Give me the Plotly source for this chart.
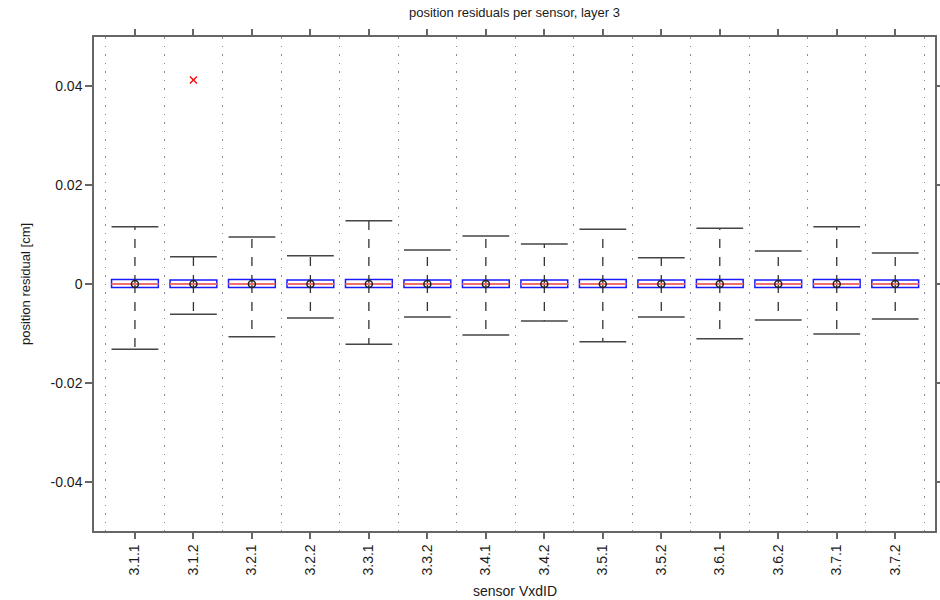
import plotly.graph_objects as go

sensors = ["3.1.1", "3.1.2", "3.2.1", "3.2.2", "3.3.1", "3.3.2", "3.4.1",
           "3.4.2", "3.5.1", "3.5.2", "3.6.1", "3.6.2", "3.7.1", "3.7.2"]
upper_whisker = [0.0116, 0.0055, 0.0095, 0.0057, 0.0128, 0.0069, 0.0097,
                 0.0081, 0.0111, 0.0053, 0.0113, 0.0067, 0.0116, 0.0063]
lower_whisker = [-0.0132, -0.0061, -0.0107, -0.0069, -0.0122, -0.0067, -0.0103,
                 -0.0075, -0.0117, -0.0067, -0.0111, -0.0073, -0.0101, -0.0071]
q3 = [0.0009, 0.0008, 0.0009, 0.0008, 0.0009, 0.0008, 0.0008,
      0.0008, 0.0009, 0.0008, 0.0009, 0.0008, 0.0009, 0.0008]
q1 = [-0.0007, -0.0007, -0.0007, -0.0007, -0.0007, -0.0007, -0.0007,
      -0.0007, -0.0007, -0.0007, -0.0007, -0.0007, -0.0007, -0.0007]
median = [0.0, 0.0, 0.0, 0.0, 0.0, 0.0, 0.0, 0.0, 0.0, 0.0, 0.0, 0.0, 0.0, 0.0]
mean = [0.0, 0.0, 0.0, 0.0, 0.0, 0.0, 0.0, 0.0, 0.0, 0.0, 0.0, 0.0, 0.0, 0.0]
outlier_sensor = ["3.1.2"]
outlier_value = [0.0413]

y_tickvals = [-0.04, -0.02, 0, 0.02, 0.04]
y_ticktext = ["-0.04", "-0.02", "0", "0.02", "0.04"]

pos = list(range(len(sensors)))
half = 0.4

# dashed whiskers (from median to caps)
wx, wy = [], []
for i in pos:
    wx += [i, i, None, i, i, None]
    wy += [median[i], upper_whisker[i], None, median[i], lower_whisker[i], None]

# caps
cx, cy = [], []
for i in pos:
    cx += [i - half, i + half, None, i - half, i + half, None]
    cy += [upper_whisker[i], upper_whisker[i], None, lower_whisker[i], lower_whisker[i], None]

# medians
mx, my = [], []
for i in pos:
    mx += [i - half, i + half, None]
    my += [median[i], median[i], None]

fig = go.Figure()
fig.add_trace(go.Scatter(x=wx, y=wy, mode="lines",
                         line=dict(color="#333333", width=1.3, dash="9px,9px"),
                         hoverinfo="skip", showlegend=False))
fig.add_trace(go.Scatter(x=cx, y=cy, mode="lines",
                         line=dict(color="#444444", width=1.5),
                         hoverinfo="skip", showlegend=False))
fig.add_trace(go.Box(x=pos, q1=q1, median=median, q3=q3,
                     lowerfence=q1, upperfence=q3, width=2 * half,
                     whiskerwidth=0, boxpoints=False,
                     line=dict(color="#1a1aff", width=1.5),
                     fillcolor="rgba(255,255,255,0.6)",
                     hoverinfo="skip", showlegend=False))
fig.add_trace(go.Scatter(x=mx, y=my, mode="lines",
                         line=dict(color="#f07070", width=2.2),
                         hoverinfo="skip", showlegend=False))
fig.add_trace(go.Scatter(x=pos, y=mean, mode="markers",
                         marker=dict(symbol="circle-open", size=7, color="#222222",
                                     line=dict(width=1.5)),
                         hoverinfo="skip", showlegend=False))
fig.add_trace(go.Scatter(x=[sensors.index(s) for s in outlier_sensor], y=outlier_value,
                         mode="markers",
                         marker=dict(symbol="x-thin", size=7, color="red",
                                     line=dict(width=1.3, color="red")),
                         hoverinfo="skip", showlegend=False))

font_family = "Liberation Sans, Arial, sans-serif"
fig.update_layout(
    width=940, height=600,
    margin=dict(l=94, r=5, t=37, b=69, autoexpand=False),
    paper_bgcolor="white", plot_bgcolor="white",
    font=dict(family=font_family, size=12, color="#1a1a1a"),
    title=dict(text="position residuals per sensor, layer 3",
               x=(94 + 935) / 2 / 940, xanchor="center",
               y=1 - 12 / 600, yanchor="middle", yref="container",
               font=dict(size=13, color="#1a1a1a")),
    xaxis=dict(range=[-0.7, 13.68], tickmode="array", tickvals=pos, ticktext=sensors,
               tickangle=-90, ticks="outside", ticklen=6, tickcolor="#666666",
               tickwidth=1.5, showgrid=False, zeroline=False, automargin=False,
               showline=True, linecolor="#666666", linewidth=1.5, mirror="ticks",
               tickfont=dict(size=14),
               minor=dict(tick0=0.5, dtick=1, showgrid=True, gridcolor="#8a8a8a",
                          griddash="1.5px,7px", gridwidth=1.3, ticklen=0)),
    yaxis=dict(range=[-0.05, 0.05], tickmode="array", tickvals=y_tickvals,
               ticktext=y_ticktext, ticks="outside", ticklen=7, tickcolor="#666666",
               tickwidth=1.5, showgrid=False, zeroline=False, automargin=False,
               showline=True, linecolor="#666666", linewidth=1.5, mirror="ticks",
               tickfont=dict(size=14)),
    annotations=[
        dict(text="position residual [cm]", xref="paper", yref="paper",
             x=(25 - 94) / 841, y=0.5, textangle=-90, showarrow=False,
             xanchor="center", yanchor="middle", font=dict(size=13)),
        dict(text="sensor VxdID", xref="paper", yref="paper",
             x=0.5, y=-(591 - 531) / 494, showarrow=False,
             xanchor="center", yanchor="middle", font=dict(size=14)),
    ],
)

fig.write_html("out.html")
